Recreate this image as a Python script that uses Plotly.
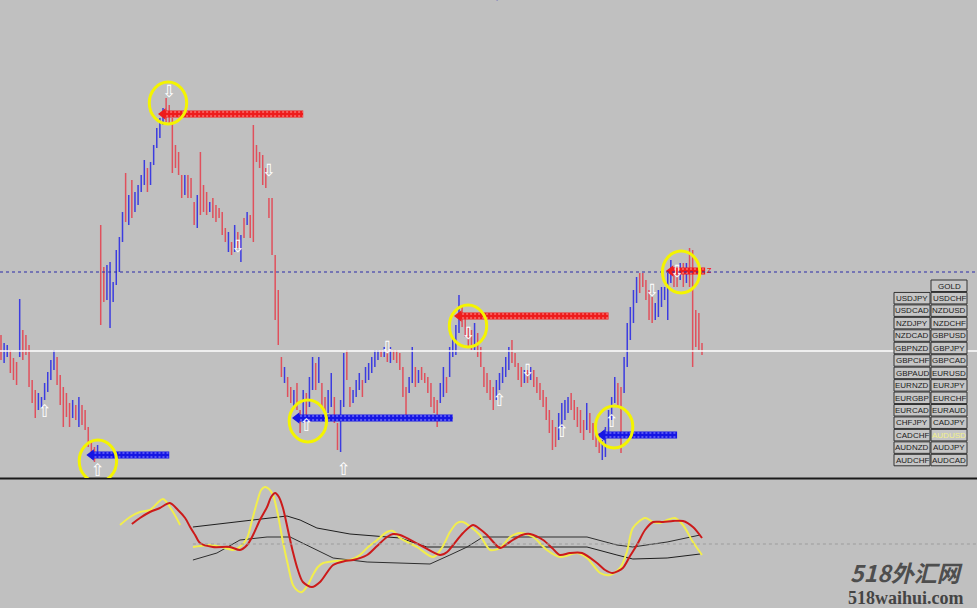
import plotly.graph_objects as go

# ---------------------------------------------------------
# Données : barres AUDUSD (prix en points), de la plus ancienne à la plus récente
# ---------------------------------------------------------
bar_high = [
    7665, 7657, 7655, 7650, 7642, 7638, 7701, 7670, 7665, 7655,
    7620, 7610, 7607, 7603, 7617, 7628, 7640, 7650, 7643, 7625,
    7613, 7607, 7597, 7600, 7595, 7603, 7595, 7590, 7573, 7560,
    7553, 7555,
    7775, 7733, 7735, 7738, 7718, 7750, 7763, 7788, 7827, 7805,
    7820, 7808, 7815, 7825, 7840, 7832, 7838, 7855, 7872, 7882,
    7892, 7902, 7895, 7882, 7855, 7848, 7825, 7825, 7825, 7822,
    7798, 7805, 7848, 7815, 7808, 7798, 7802, 7795, 7792, 7788,
    7772, 7768, 7758, 7775, 7768, 7765, 7782, 7788, 7785, 7875,
    7855, 7848, 7845, 7832, 7802, 7802, 7745,
    7710, 7643, 7633, 7623, 7613, 7610, 7617, 7590, 7610, 7607,
    7623, 7643, 7637, 7643, 7617, 7603, 7610, 7627, 7603, 7577,
    7600, 7647, 7650, 7613, 7610, 7620, 7627, 7620, 7633, 7637,
    7643, 7650, 7650, 7650, 7653, 7650, 7653, 7650, 7650, 7647,
    7633, 7613, 7623, 7653, 7633, 7630, 7633, 7627, 7623, 7617,
    7603, 7600, 7617, 7633, 7623, 7653, 7663, 7675,
    7705, 7693, 7683, 7673, 7670, 7677, 7667, 7653, 7633, 7627,
    7620, 7613, 7620, 7627, 7633, 7643, 7653, 7660, 7647, 7637,
    7633, 7630, 7630, 7633, 7630, 7623, 7617, 7610, 7603, 7590,
    7580, 7573, 7587, 7597, 7600, 7603, 7607, 7600, 7593, 7590,
    7580, 7597, 7587, 7577, 7570, 7567, 7560, 7573, 7590, 7603,
    7623, 7617, 7613, 7643, 7677, 7693, 7710, 7723, 7727, 7727,
    7720, 7710, 7703, 7697, 7710, 7713, 7713, 7727, 7740, 7733,
    7730, 7737, 7737, 7737, 7752, 7750, 7690, 7687, 7657,
]
bar_low = [
    7640, 7637, 7643, 7627, 7620, 7615, 7643, 7640, 7645, 7613,
    7597, 7582, 7590, 7592, 7600, 7608, 7620, 7630, 7615, 7595,
    7573, 7583, 7573, 7582, 7580, 7573, 7575, 7570, 7553, 7543,
    7538, 7542,
    7675, 7698, 7700, 7672, 7698, 7715, 7728, 7758, 7778, 7775,
    7782, 7788, 7795, 7808, 7815, 7808, 7815, 7835, 7852, 7862,
    7875, 7878, 7875, 7827, 7832, 7825, 7802, 7805, 7802, 7802,
    7775, 7772, 7785, 7788, 7785, 7788, 7782, 7778, 7782, 7765,
    7758, 7748, 7745, 7748, 7752, 7738, 7762, 7775, 7762, 7758,
    7838, 7832, 7815, 7812, 7782, 7745, 7680,
    7655, 7623, 7617, 7603, 7597, 7593, 7590, 7567, 7577, 7583,
    7593, 7610, 7610, 7617, 7593, 7583, 7587, 7593, 7577, 7550,
    7548, 7593, 7620, 7593, 7597, 7603, 7610, 7603, 7617, 7620,
    7627, 7633, 7640, 7643, 7643, 7638, 7637, 7640, 7637, 7630,
    7603, 7583, 7607, 7617, 7613, 7617, 7620, 7617, 7607, 7593,
    7587, 7573, 7597, 7603, 7607, 7623, 7643, 7645,
    7667, 7673, 7663, 7653, 7650, 7650, 7643, 7633, 7613, 7607,
    7600, 7590, 7600, 7610, 7617, 7623, 7630, 7637, 7633, 7620,
    7613, 7617, 7617, 7620, 7613, 7607, 7600, 7593, 7580, 7567,
    7550, 7553, 7560, 7573, 7580, 7587, 7590, 7580, 7573, 7567,
    7560, 7570, 7567, 7560, 7553, 7547, 7540, 7543, 7567, 7580,
    7597, 7593, 7547, 7607, 7633, 7660, 7677, 7697, 7707, 7713,
    7700, 7680, 7677, 7680, 7683, 7693, 7700, 7680, 7717, 7713,
    7713, 7720, 7713, 7717, 7713, 7633, 7653, 7650, 7645,
]
# u = barre haussière (bleue), d = barre baissière (rouge)
bar_dir = "".join([
    "duuddduddd", "dduuuuuudd", "dddudu" "dddd", "du",
    "dduuuuuudu", "duuuuduuuu", "uddddddudd", "dudddudddd", "dudududu" "dd", "ddddddd",
    "ddudduddud", "uududduudd", "uudduuuduu", "uuudududdd", "dduududddd", "dduuduuu",
    "uddddudddd", "dduuuuuddd", "dudud" "ddddd", "dduuuudddd", "dudddd" "uuuu",
    "udduuuuudd", "ddduuuuuud", "dudu" "ddddd",
])

ask_level = 7728   # ligne pointillée bleue
bid_level = 7649   # ligne blanche

# Niveaux de signal (indice de barre début / fin, prix)
sell_start = [52, 147, 215]
sell_end = [97, 195, 226]
sell_price = [7886, 7684, 7729]
buy_start = [29, 95, 193]
buy_end = [54, 145, 217]
buy_price = [7545, 7582, 7565]

# Cercles jaunes (centre)
mark_x = [53.6, 31.1, 98.5, 149.9, 196.8, 218.3]
mark_y = [7897, 7539, 7579, 7674, 7573, 7728]

# Flèches blanches
arrow_up_x = [14, 31, 98, 110, 160, 180, 196]
arrow_up_y = [7587, 7528, 7573, 7529, 7598, 7567, 7577]
arrow_dn_x = [54, 76, 86, 124, 150, 169, 209, 217]
arrow_dn_y = [7907, 7752, 7828, 7651, 7665, 7628, 7708, 7727]

# ---------------------------------------------------------
# Oscillateur (fenêtre du bas)
# ---------------------------------------------------------
fast_x = [38.2, 41.4, 44.6, 47.8, 52.0, 55.2, 57.5, None,
          61.6, 63.9, 67.1, 70.9, 74.5, 77.0, 79.0, 80.6, 82.2, 83.5,
          84.7, 86.0, 87.3, 88.9, 90.5, 92.1, 93.7, 95.3, 96.6, 98.5,
          100.1, 101.7, 103.4, 107.2, 112.0, 115.2, 117.5, 120.7, 123.9, 125.8,
          128.1, 133.5, 138.7, 141.5, 144.1, 146.4, 148.3, 151.2, 153.7, 157.0,
          160.2, 163.4, 166.6, 170.8, 175.2, 179.4, 184.9, 188.1, 192.3, 195.5,
          198.7, 200.9, 202.8, 206.7, 209.3, 211.5, 213.8, 216.3, 218.9, 222.1,
          225.0]
fast_y = [19, 27, 32, 34, 45, 32, 19, None,
          -3, -2, -1, -3, -6, -2, 6, 24, 42, 54,
          57, 55, 49, 29, 2, -21, -41, -47, -48, -41,
          -31, -23, -19, -17, -16, -11, -4, 4, 12, 13,
          6, -3, -13, -4, 12, 21, 22, 16, 9, -6,
          -4, 7, 11, 7, -6, -13, -9, -14, -29, -31,
          -24, -8, 16, 26, 22, 21, 24, 26, 19, 2,
          -11]
slow_x = [42.0, 44.6, 47.8, 51.0, 54.2, 56.8, 59.1, 60.7, 62.3, 63.9,
          68.0, 73.5, 76.7, 79.0, 80.9, 83.1, 85.4, 86.7, 88.0, 89.2,
          90.5, 92.1, 93.7, 95.3, 96.9, 99.8, 102.4, 106.6, 110.4, 113.0,
          117.5, 120.7, 123.9, 125.8, 128.1, 134.5, 140.9, 143.2, 145.1, 148.3,
          151.5, 153.7, 156.0, 160.2, 162.4, 164.3, 167.2, 169.8, 174.0, 176.9,
          179.4, 182.6, 186.5, 191.3, 193.9, 196.4, 199.6, 201.9, 204.1, 206.7,
          209.3, 212.5, 215.7, 218.9, 222.1, 225.0]
slow_y = [20, 26, 32, 36, 41, 34, 26, 17, 9, 1,
          -3, -3, -6, -1, 9, 24, 37, 47, 51, 47,
          36, 14, -8, -26, -38, -43, -38, -21, -17, -16,
          -11, -2, 7, 10, 9, -1, -11, -8, -1, 11,
          19, 15, 9, -4, 0, 4, 9, 10, 4, -4,
          -11, -9, -9, -19, -26, -29, -24, -12, -1, 14,
          22, 22, 23, 23, 17, 6]
env_a_x = [61.6, 74.5, 85.4, 91.8, 96.0, 101.4, 112.0, 128.1, 136.7, 144.1,
           188.1, 197.7, 202.8, 213.8, 224.4]
env_a_y = [17, 22, 26, 28, 24, 16, 10, 6, -3, -3, -3, -11, -15, -14, -10]
env_b_x = [61.6, 69.3, 76.7, 85.4, 92.8, 98.2, 106.6, 117.5, 128.1, 137.7,
           144.1, 149.6, 154.7, 188.1, 197.7, 202.8, 213.8, 224.4]
env_b_y = [-16, -9, 4, 7, 7, -1, -14, -18, -19, -20, -11, -3, 7, 7, -1, -3, 2, 9]

# Boutons des symboles
sym_col1 = ["", "USDJPY", "USDCAD", "NZDJPY", "NZDCAD", "GBPNZD", "GBPCHF", "GBPAUD",
            "EURNZD", "EURGBP", "EURCAD", "CHFJPY", "CADCHF", "AUDNZD", "AUDCHF"]
sym_col2 = ["GOLD", "USDCHF", "NZDUSD", "NZDCHF", "GBPUSD", "GBPJPY", "GBPCAD", "EURUSD",
            "EURJPY", "EURCHF", "EURAUD", "CADJPY", "AUDUSD", "AUDJPY", "AUDCAD"]
active_sym = "AUDUSD"

# ---------------------------------------------------------
# Mise en page
# ---------------------------------------------------------
W, H = 977, 608
BG = "#C0C0C0"
RED = "#E0505C"
BLUE = "#3C3CE0"
BAR_PX = 701 / 225
x_range = [-1 / BAR_PX, 976 / BAR_PX]

fig = go.Figure()

# ---- barres ----
for want, color in (("d", RED), ("u", BLUE)):
    xs, ys = [], []
    for i, (h, l, d) in enumerate(zip(bar_high, bar_low, bar_dir)):
        if d == want:
            xs += [i, i, None]
            ys += [l, h, None]
    fig.add_trace(go.Scatter(x=xs, y=ys, mode="lines", line=dict(color=color, width=1.5),
                             hoverinfo="skip", xaxis="x", yaxis="y"))

# ---- niveaux vente / achat ----
def niveau(starts, ends, prices, col, light):
    for s, e, p in zip(starts, ends, prices):
        fig.add_trace(go.Scatter(x=[s, e], y=[p, p], mode="lines",
                                 line=dict(color=col, width=7), hoverinfo="skip"))
        for off in (-2, 2):
            fig.add_trace(go.Scatter(x=[s + 1, e], y=[p + off, p + off], mode="lines",
                                     line=dict(color=light, width=1, dash="2px,2px"),
                                     hoverinfo="skip"))
        fig.add_trace(go.Scatter(x=[s], y=[p], mode="markers",
                                 marker=dict(symbol="triangle-left", size=10, color=col),
                                 hoverinfo="skip"))

niveau(sell_start, sell_end, sell_price, "#EE1C1C", "#FF9A9A")
niveau(buy_start, buy_end, buy_price, "#1616E4", "#9A9AFF")
fig.add_trace(go.Scatter(x=[sell_end[-1] + 1.3], y=[sell_price[-1]], mode="text", text=["z"],
                         textfont=dict(color="#EE1C1C", size=9, family="DejaVu Sans"),
                         hoverinfo="skip"))

# ---- flèches blanches ----
fig.add_trace(go.Scatter(x=arrow_up_x, y=arrow_up_y, mode="text", text=["⇧"] * len(arrow_up_x),
                         textfont=dict(color="white", size=17, family="DejaVu Sans"),
                         hoverinfo="skip"))
fig.add_trace(go.Scatter(x=arrow_dn_x, y=arrow_dn_y, mode="text", text=["⇩"] * len(arrow_dn_x),
                         textfont=dict(color="white", size=17, family="DejaVu Sans"),
                         hoverinfo="skip"))

# ---- oscillateur ----
fig.add_trace(go.Scatter(x=env_a_x, y=env_a_y, mode="lines", line=dict(color="#1E1E1E", width=1),
                         xaxis="x2", yaxis="y2", hoverinfo="skip"))
fig.add_trace(go.Scatter(x=env_b_x, y=env_b_y, mode="lines", line=dict(color="#2E2E2E", width=1),
                         xaxis="x2", yaxis="y2", hoverinfo="skip"))
fig.add_trace(go.Scatter(x=fast_x, y=fast_y, mode="lines",
                         line=dict(color="#F2EE4C", width=2, shape="spline", smoothing=0.8),
                         xaxis="x2", yaxis="y2", hoverinfo="skip"))
fig.add_trace(go.Scatter(x=slow_x, y=slow_y, mode="lines",
                         line=dict(color="#CC1A1A", width=2, shape="spline", smoothing=0.8),
                         xaxis="x2", yaxis="y2", hoverinfo="skip"))

# ---- lignes horizontales ----
fig.add_shape(type="line", xref="paper", x0=0, x1=1, yref="y", y0=ask_level, y1=ask_level,
              line=dict(color="#2A2AA8", width=1, dash="3px,3px"))
fig.add_shape(type="line", xref="paper", x0=0, x1=1, yref="y", y0=bid_level, y1=bid_level,
              line=dict(color="white", width=1.5))
fig.add_shape(type="line", xref="x2", x0=env_a_x[0], x1=x_range[1], yref="y2", y0=0, y1=0,
              line=dict(color="#9C9C9C", width=1, dash="3px,3px"))
sep_y = 1 - 478.5 / H
fig.add_shape(type="line", xref="paper", x0=0, x1=1, yref="paper", y0=sep_y, y1=sep_y,
              line=dict(color="#1A1A1A", width=2))

# ---- cercles jaunes ----
for cx, cy in zip(mark_x, mark_y):
    fig.add_shape(type="circle", xref="x", yref="y", x0=cx - 6, x1=cx + 6, y0=cy - 21, y1=cy + 21,
                  line=dict(color="#F4F400", width=3))

# ---- boutons des symboles ----
for r, (a, b) in enumerate(zip(sym_col1, sym_col2)):
    top = 280 + 12.45 * r
    for c, lab in enumerate((a, b)):
        if not lab:
            continue
        left = 894 + 37 * c
        fig.add_shape(type="rect", xref="paper", yref="paper",
                      x0=left / W, x1=(left + 36) / W, y0=1 - (top + 11.5) / H, y1=1 - top / H,
                      line=dict(color="#333333", width=1), fillcolor="#C6C6C6")
        fig.add_annotation(x=(left + 18) / W, y=1 - (top + 6) / H, xref="paper", yref="paper",
                           xanchor="center", yanchor="middle",
                           text=lab, showarrow=False,
                           font=dict(family="Liberation Sans", size=8,
                                     color="#F2F28A" if lab == active_sym else "#1A1A1A"))

# ---- titre (coupé en haut) et filigrane ----
fig.add_annotation(x=517 / W, y=1 - 4.5 / H, xref="paper", yref="paper",
                   xanchor="center", yanchor="bottom",
                   text="<b>AUDUSD,H1 Arrows Alert</b>", showarrow=False,
                   font=dict(family="Liberation Serif", size=13, color="#3434B8"))
fig.add_annotation(x=906 / W, y=1 - 572 / H, xref="paper", yref="paper",
                   xanchor="center", yanchor="middle",
                   text="<i><b>518外汇网</b></i>", showarrow=False,
                   font=dict(family="Noto Sans CJK SC", size=23, color="#4E4E4E"))
fig.add_annotation(x=906 / W, y=1 - 597.5 / H, xref="paper", yref="paper",
                   xanchor="center", yanchor="middle",
                   text="<b>518waihui.com</b>", showarrow=False,
                   font=dict(family="Liberation Serif", size=18, color="#444444"))

fig.update_layout(
    width=W, height=H,
    margin=dict(l=0, r=0, t=0, b=0),
    paper_bgcolor=BG, plot_bgcolor=BG,
    showlegend=False,
    xaxis=dict(domain=[0, 1], range=x_range, visible=False, anchor="y"),
    yaxis=dict(domain=[1 - 478 / H, 1], range=[7522, 8000], visible=False),
    xaxis2=dict(domain=[0, 1], range=x_range, visible=False, anchor="y2"),
    yaxis2=dict(domain=[0, 128 / H], range=[-64, 64], visible=False),
)

# la page HTML a une marge de 8px par défaut : on la retire
fig.write_html("out.html", config={"displayModeBar": False},
               post_script="document.body.style.margin='0';")
